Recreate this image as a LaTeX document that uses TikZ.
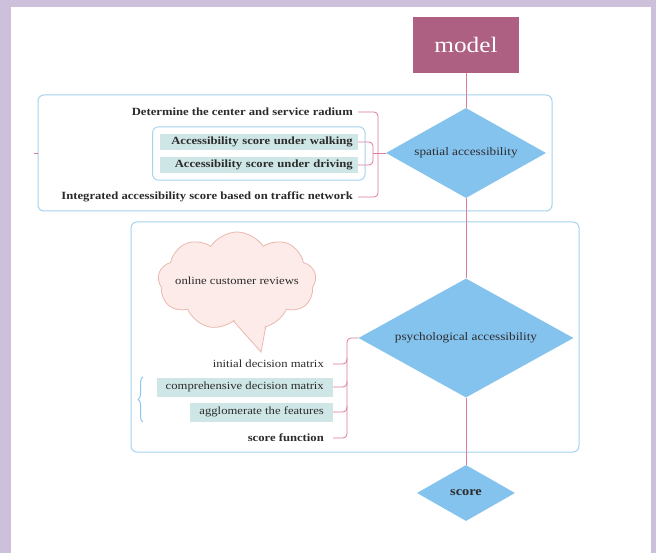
\documentclass[tikz,border=0pt]{standalone}
\usepackage{fontspec}
\setmainfont[FakeStretch=1.15]{Liberation Serif}
\usepackage{tikz}
\usetikzlibrary{shapes, shapes.geometric, shapes.symbols, decorations.pathreplacing, positioning, fit, calc}
\definecolor{frame}{HTML}{CCC0DA}
\definecolor{modelred}{HTML}{AE6082}
\definecolor{linkpink}{HTML}{DC7C99}
\definecolor{panelblue}{HTML}{A6D3F0}
\definecolor{braceblue}{HTML}{8EC6EE}
\definecolor{diablue}{HTML}{85C3EF}
\definecolor{tagteal}{HTML}{CFE6E6}
\definecolor{cloudfill}{HTML}{FCEBE8}
\definecolor{cloudline}{HTML}{EBB8AE}
\definecolor{ink}{HTML}{2B2B2B}
\tikzstyle{modelbox} = [rectangle, minimum width=106pt, minimum height=56pt, fill=modelred, text=white, font=\fontsize{22}{26}\selectfont]
\tikzstyle{decision} = [diamond, aspect=1.8, inner sep=0pt, fill=diablue, text=ink, font=\fontsize{11.5}{13}\selectfont]
\tikzstyle{leaf} = [rectangle, anchor=east, inner xsep=5pt, inner ysep=2pt, minimum height=16pt, text=ink, font=\fontsize{11}{13}\selectfont\bfseries]
\tikzstyle{tag} = [leaf, fill=tagteal, text width=188pt, align=right]
\tikzstyle{item} = [rectangle, anchor=east, inner xsep=9pt, inner ysep=2pt, minimum height=19pt, text=ink, font=\fontsize{11}{13}\selectfont]
\tikzstyle{panel} = [draw=panelblue, line width=1pt, rounded corners=6pt]
\tikzstyle{link} = [draw=linkpink, line width=0.8pt, rounded corners=4pt]

\begin{document}
\begin{tikzpicture}[x=1pt, y=-1pt, node distance=108pt]
\useasboundingbox (0,0) rectangle (656,553);
\fill[frame] (0,0) rectangle (656,553);
\fill[white] (11,7) rectangle (651,553);

% main chain
\node (model) [modelbox] at (466,45) {model};
\node (spatial) [decision, minimum width=160pt, minimum height=90pt, below of=model] {spatial accessibility};
\node (psych) [decision, minimum width=215pt, minimum height=119pt, below of=spatial, yshift=-77pt] {psychological accessibility};
\node (score) [decision, minimum width=98pt, minimum height=56pt, font=\fontsize{12.5}{15}\selectfont\bfseries, below of=psych, yshift=-47pt] {score};

% spatial part
\draw[panel] (38,95) rectangle (552,211);
\node (radius) [leaf] at (358,112) {Determine the center and service radium};
\node (walk) [tag] at (358,142) {Accessibility score under walking};
\node (drive) [tag] at (358,165) {Accessibility score under driving};
\node (network) [leaf] at (358,197) {Integrated accessibility score based on traffic network};
\node (modes) [panel, fit=(walk)(drive), inner sep=7pt] {};
\coordinate (sx) at (378,0);
\coordinate (sxin) at (373,0);
\coordinate (tick) at (38,153);

% psychological part
\draw[panel] (131,222) rectangle (579,452);
\coordinate (taila) at (228,315);
\coordinate (tailb) at (268,315);
\coordinate (tailtip) at (261,352);
\fill[cloudfill] (taila) -- (tailtip) -- (tailb) -- cycle;
\draw[cloudline, line width=0.8pt] (taila) -- (tailtip) -- (tailb);
\node (reviewcloud) [cloud, cloud puffs=9, cloud puff arc=115, aspect=1.6, minimum width=158pt, minimum height=98pt, inner sep=0pt, fill=cloudfill, draw=cloudline, line width=0.8pt] at (237,281) {};
\fill[cloudfill] ($(taila)+(2.5,0)$) -- ($(tailtip)+(0,-4)$) -- ($(tailb)+(-1.5,0)$) -- cycle;
\node (reviews) [text=ink, font=\fontsize{11}{13}\selectfont] at (reviewcloud.center) {online customer reviews};
\node (initial) [item] at (333,364) {initial decision matrix};
\node (compre) [item, fill=tagteal] at (333,387) {comprehensive decision matrix};
\node (agglo) [item, fill=tagteal] at (333,412) {agglomerate the features};
\node (scorefn) [item, font=\fontsize{11}{13}\selectfont\bfseries] at (333,438) {score function};
\coordinate (px) at (347,0);
\coordinate (bracetop) at (143,377);
\coordinate (bracebot) at (143,422);

\draw[braceblue, line width=1pt, decorate, decoration={brace, amplitude=5pt}] (bracebot) -- (bracetop);

\draw[link] (model) -- (spatial);
\draw[link] (spatial) -- (psych);
\draw[link] (psych) -- (score);

\draw[link] (radius.east) -- (radius.east -| sx) -- (network.east -| sx) -- (network.east);
\draw[link] (walk.east) -- (walk.east -| sxin) -- (drive.east -| sxin) -- (drive.east);
\draw[link] (spatial.west) -- (spatial.west -| sxin);
\draw[link] (tick) -- ++(-4,0);

\draw[link] (scorefn.east) -- (scorefn.east -| px) -- (psych.west -| px) -- (psych.west);
\draw[link] (initial.east) -- (initial.east -| px) -- ($(initial.east -| px)+(0,-6)$);
\draw[link] (compre.east) -- (compre.east -| px) -- ($(compre.east -| px)+(0,-6)$);
\draw[link] (agglo.east) -- (agglo.east -| px) -- ($(agglo.east -| px)+(0,-6)$);
\end{tikzpicture}
\end{document}
